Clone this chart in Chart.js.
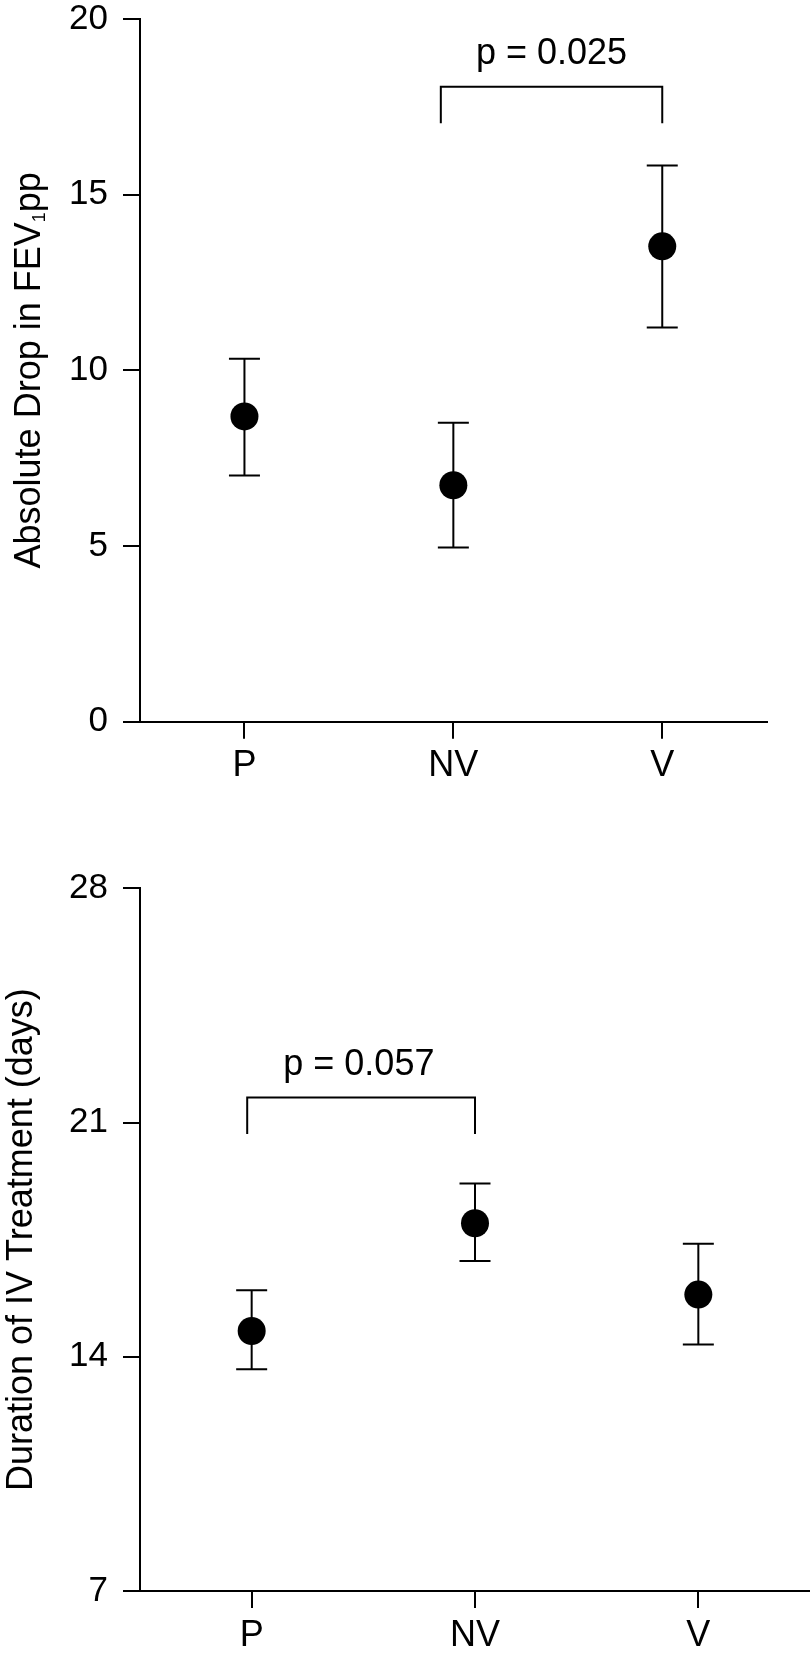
<!DOCTYPE html>
<html>
<head>
<meta charset="utf-8">
<script src="https://cdn.jsdelivr.net/npm/chart.js@4.4.1/dist/chart.umd.min.js"></script>
<style>
html, body { margin: 0; padding: 0; background: #fff; }
body { width: 810px; height: 1657px; position: relative; overflow: hidden; }
.box { position: absolute; left: 0; width: 810px; }
#topBox { top: 0; height: 800px; }
#botBox { top: 810px; height: 847px; }
</style>
</head>
<body>
<div class="box" id="topBox"><canvas id="fevChart"></canvas></div>
<div class="box" id="botBox"><canvas id="ivChart"></canvas></div>
<script>
const groups = ["P", "NV", "V"];

// top panel: absolute drop in FEV1pp
const fevMean = [8.69, 6.73, 13.53];
const fevLow = [7.01, 4.96, 11.22];
const fevHigh = [10.33, 8.51, 15.83];
const fevTicks = [0, 5, 10, 15, 20];

// bottom panel: duration of IV treatment
const ivMean = [14.77, 17.99, 15.86];
const ivLow = [13.63, 16.86, 14.37];
const ivHigh = [15.99, 19.18, 17.38];
const ivTicks = [7, 14, 21, 28];

// brackets: from/to on the group axis, top/foot/textY in data units
const fevBracket = { from: 0.94, to: 2, top: 18.07, foot: 17.03, textAt: 1.47, textY: 18.73, label: "p = 0.025" };
const ivBracket = { from: -0.02, to: 1, top: 21.75, foot: 20.66, textAt: 0.48, textY: 22.42, label: "p = 0.057" };

const FONT = "'Liberation Sans', Arial, Helvetica, sans-serif";
Chart.defaults.font.family = FONT;
Chart.defaults.color = "#000";

function makeChart(id, p) {

    const ctx = document.getElementById(id).getContext("2d");

    const errorBars = {
        id: "errorBars",
        beforeDatasetsDraw(chart) {
            const xs = chart.scales.x, ys = chart.scales.y, c = chart.ctx;
            c.save();
            c.strokeStyle = "#000";
            c.lineWidth = 2;
            p.low.forEach((lo, i) => {
                const px = xs.getPixelForValue(i);
                const yl = ys.getPixelForValue(lo);
                const yh = ys.getPixelForValue(p.high[i]);
                c.beginPath();
                c.moveTo(px, yl); c.lineTo(px, yh);
                c.moveTo(px - 15.5, yl); c.lineTo(px + 15.5, yl);
                c.moveTo(px - 15.5, yh); c.lineTo(px + 15.5, yh);
                c.stroke();
            });
            c.restore();
        }
    };

    const extras = {
        id: "extras",
        afterDraw(chart) {
            const xs = chart.scales.x, ys = chart.scales.y, c = chart.ctx;
            const b = p.bracket;
            c.save();

            // significance bracket
            const x1 = xs.getPixelForValue(b.from), x2 = xs.getPixelForValue(b.to);
            const yt = ys.getPixelForValue(b.top), yf = ys.getPixelForValue(b.foot);
            c.strokeStyle = "#000";
            c.lineWidth = 2;
            c.beginPath();
            c.moveTo(x1, yf); c.lineTo(x1, yt); c.lineTo(x2, yt); c.lineTo(x2, yf);
            c.stroke();
            c.fillStyle = "#000";
            c.font = "36px " + FONT;
            c.textAlign = "center";
            c.textBaseline = "alphabetic";
            c.fillText(b.label, xs.getPixelForValue(b.textAt), ys.getPixelForValue(b.textY));

            // rotated y title (with subscript parts)
            const area = chart.chartArea;
            const midY = (area.top + area.bottom) / 2;
            let total = 0;
            p.title.forEach(t => {
                c.font = t.size + "px " + FONT;
                t.w = c.measureText(t.text).width;
                total += t.w;
            });
            c.translate(p.titleX, midY);
            c.rotate(-Math.PI / 2);
            c.textAlign = "left";
            let pos = -total / 2;
            p.title.forEach(t => {
                c.font = t.size + "px " + FONT;
                c.fillText(t.text, pos, t.shift || 0);
                pos += t.w;
            });
            c.restore();
        }
    };

    return new Chart(ctx, {

        type: "line",

        data: {
            labels: groups,
            datasets: [
                {
                    data: p.mean,
                    showLine: false,
                    pointRadius: 14,
                    pointHoverRadius: 14,
                    pointBackgroundColor: "#000",
                    pointBorderWidth: 0
                }
            ]
        },

        options: {
            responsive: true,
            maintainAspectRatio: false,
            animation: false,
            events: [],
            layout: { padding: p.padding, autoPadding: false },
            plugins: {
                legend: { display: false },
                tooltip: { enabled: false }
            },
            scales: {
                x: {
                    type: "category",
                    offset: true,
                    grid: {
                        display: true,
                        offset: false,
                        drawOnChartArea: false,
                        drawTicks: true,
                        tickLength: 17,
                        tickWidth: 2,
                        lineWidth: 2,
                        tickColor: "#000",
                        color: "#000"
                    },
                    border: { display: true, color: "#000", width: 2 },
                    ticks: { font: { size: 36 }, padding: p.xPad, color: "#000", maxRotation: 0, autoSkip: false },
                    afterFit(s) {
                        s.height = p.xHeight;
                        s.paddingLeft = 0;
                        s.paddingRight = 0;
                    }
                },
                y: {
                    min: p.ticks[0],
                    max: p.ticks[p.ticks.length - 1],
                    afterBuildTicks(s) { s.ticks = p.ticks.map(v => ({ value: v })); },
                    grid: {
                        display: true,
                        drawOnChartArea: false,
                        drawTicks: true,
                        tickLength: 17,
                        tickWidth: 2,
                        lineWidth: 2,
                        tickColor: "#000",
                        color: "#000"
                    },
                    border: { display: true, color: "#000", width: 2 },
                    ticks: { font: { size: 35, lineHeight: 1 }, padding: 15, color: "#000", autoSkip: false },
                    afterFit(s) {
                        s.width = 140;
                        s.paddingTop = 0;
                        s.paddingBottom = 0;
                    }
                }
            }
        },

        plugins: [errorBars, extras]
    });
}

makeChart("fevChart", {
    mean: fevMean, low: fevLow, high: fevHigh, ticks: fevTicks, bracket: fevBracket,
    padding: { top: 19, right: 43.3, bottom: 0, left: 0 },
    xHeight: 78.3,
    xPad: 6,
    titleX: 39.5,
    title: [
        { text: "Absolute Drop in FEV", size: 36 },
        { text: "1", size: 18, shift: 5 },
        { text: "pp", size: 36 }
    ]
});

makeChart("ivChart", {
    mean: ivMean, low: ivLow, high: ivHigh, ticks: ivTicks, bracket: ivBracket,
    padding: { top: 78.3, right: 0, bottom: 0, left: 0 },
    xHeight: 66,
    xPad: 6.5,
    titleX: 31.7,
    title: [
        { text: "Duration of IV Treatment (days)", size: 36 }
    ]
});
</script>
</body>
</html>
